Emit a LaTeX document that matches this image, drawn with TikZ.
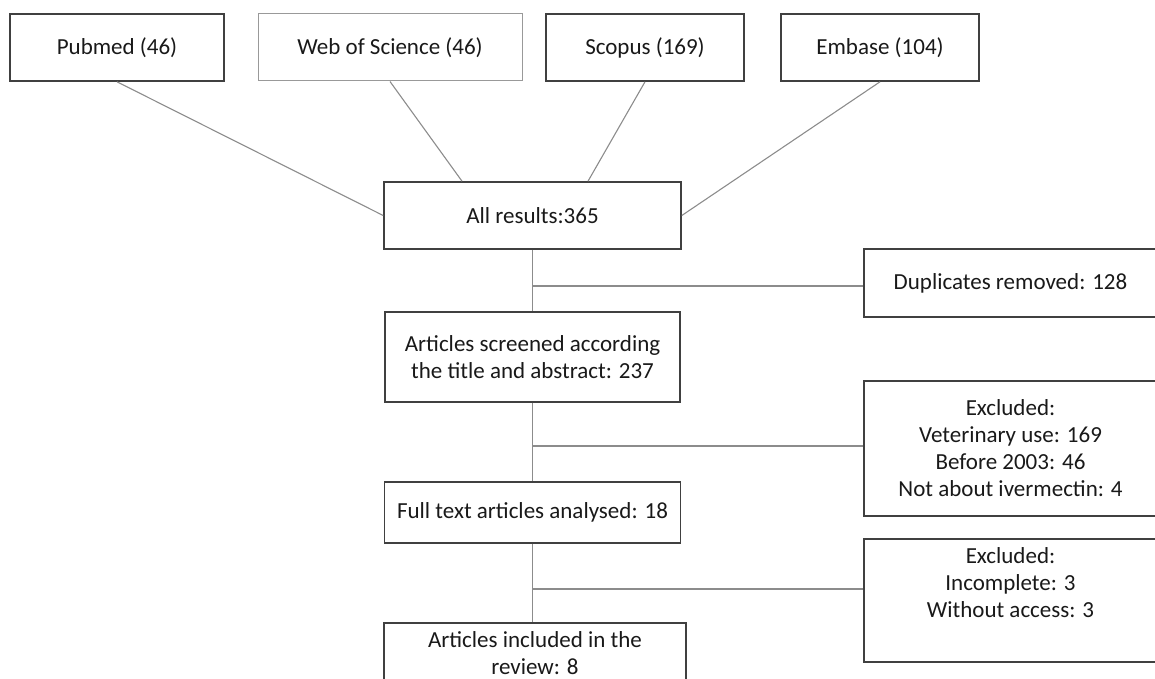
\documentclass[tikz,border=0pt]{standalone}
\usepackage{fontspec}
\setmainfont{Carlito}
\begin{document}
\begin{tikzpicture}[x=1pt,y=-1pt,
    font=\fontsize{23}{27}\selectfont,
    box/.style={draw=black!75,line width=1.6pt,inner sep=0pt,align=center,text=black!90},
    src/.style={box,minimum height=67pt},
    side/.style={box,minimum width=293pt},
    link/.style={black!45,line width=1.1pt}]
  \useasboundingbox (0,0) rectangle (1155,679);
  \clip (0,0) rectangle (1155,679);
  \draw
    (117,47.5) node[src,minimum width=214pt] (pubmed){Pubmed (46)}
    (390,47.5) node[src,minimum width=264pt,draw=black!40,line width=1pt] (wos){Web of Science (46)}
    (645,47.5) node[src,minimum width=198pt] (scopus){Scopus (169)}
    (880,47.5) node[src,minimum width=198pt] (embase){Embase (104)}
    (532.5,215.5) node[src,minimum width=297pt] (all){All results:365}
    (532.5,357) node[box,minimum width=295pt,minimum height=90pt] (screened){Articles screened according\\the title and abstract: 237}
    (532.5,512.5) node[box,minimum width=296pt,minimum height=61pt] (fulltext){Full text articles analysed: 18}
    (535,653) node[box,minimum width=302pt,minimum height=60pt] (included){Articles included in the\\review: 8}
    (1010.5,283) node[side,minimum height=68pt] (dup){Duplicates removed: 128}
    (1010.5,448.5) node[side,minimum height=135pt] (excl1){Excluded:\\Veterinary use: 169\\Before 2003: 46\\Not about ivermectin: 4}
    (1010.5,600.5) node[side,minimum height=123pt] (excl2){Excluded:\\Incomplete: 3\\Without access: 3\\\strut};
  \coordinate (dupfork) at (532.5,286);
  \coordinate (exfork) at (532.5,446);
  \coordinate (accfork) at (532.5,589);
  \begin{scope}[link]
    \draw (pubmed.south) to (all.west);
    \draw (wos.south) to ([xshift=-70.5pt]all.north);
    \draw (scopus.south) to ([xshift=55.5pt]all.north);
    \draw (embase.south) to (all.east);
    \draw (all) to (screened);
    \draw (screened) to (fulltext);
    \draw (fulltext.south) to (fulltext.south |- included.north);
    \draw (dupfork) to (dupfork -| dup.west);
    \draw (exfork) to (exfork -| excl1.west);
    \draw (accfork) to (accfork -| excl2.west);
  \end{scope}
\end{tikzpicture}
\end{document}
